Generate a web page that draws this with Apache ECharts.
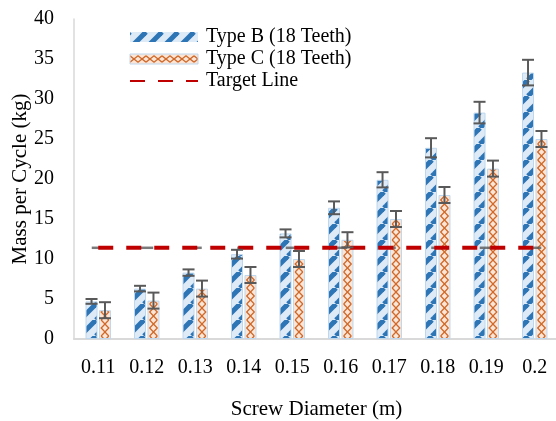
<!DOCTYPE html>
<html>
<head>
<meta charset="utf-8">
<script src="https://cdn.jsdelivr.net/npm/echarts@6/dist/echarts.min.js"></script>
<style>
html,body{margin:0;padding:0;background:#fff;}
#chart{width:556px;height:421px;}
</style>
</head>
<body>
<div id="chart"></div>
<script>
// ---- data ----
const categories = ['0.11','0.12','0.13','0.14','0.15','0.16','0.17','0.18','0.19','0.2'];
const typeB    = [4.7, 6.3, 8.3, 10.6, 13.2, 16.4, 19.9, 23.9, 28.3, 33.3];
const typeBErr = [0.3, 0.35, 0.4, 0.55, 0.5, 0.8, 0.95, 1.2, 1.35, 1.6];
const typeC    = [3.6, 4.8, 6.3, 8.0, 10.0, 12.4, 15.0, 18.0, 21.3, 25.0];
const typeCErr = [1.0, 1.0, 1.0, 1.0, 1.0, 0.95, 1.0, 1.0, 1.0, 1.0];
const target   = [11.4, 11.4, 11.4, 11.4, 11.4, 11.4, 11.4, 11.4, 11.4, 11.4];
const yTicks = {min: 0, max: 40, interval: 5};
const names = ['Type B (18 Teeth)', 'Type C (18 Teeth)', 'Target Line'];

// ---- layout / style ----
const FONT = '"Liberation Serif","Times New Roman",serif';
const gridLeft = 74, gridTop = 19, gridBottom = 82, gridWidth = 485;
const catW = gridWidth / categories.length;
const barW = 12, barGapPct = 12;
const off = (barW + barW * barGapPct / 100) / 2;

function stripePattern() {
  const s = 16, c = document.createElement('canvas');
  c.width = s; c.height = s;
  const g = c.getContext('2d');
  g.fillStyle = '#deebf7'; g.fillRect(0, 0, s, s);
  g.strokeStyle = '#2e75b6'; g.lineWidth = 5;
  for (let k = -1; k <= 1; k++) {
    g.beginPath(); g.moveTo(k * s, s); g.lineTo(k * s + s, 0); g.stroke();
  }
  return {image: c, repeat: 'repeat'};
}
function zigzagVertical() {
  const tw = Math.round(catW * 2), th = 16;
  const c = document.createElement('canvas');
  c.width = tw; c.height = th;
  const g = c.getContext('2d');
  g.fillStyle = '#fbe5d6'; g.fillRect(0, 0, tw, th);
  g.strokeStyle = '#d0692a'; g.lineWidth = 1.3;
  const first = (gridLeft + catW / 2 + off) % tw;
  const centers = [first, first + catW, first - tw, first + catW - tw, first + tw];
  const hw = 3.8;
  centers.forEach(cx => {
    g.beginPath(); g.moveTo(cx - hw, 0); g.lineTo(cx + hw, th / 2); g.lineTo(cx - hw, th); g.stroke();
    g.beginPath(); g.moveTo(cx + hw, 0); g.lineTo(cx - hw, th / 2); g.lineTo(cx + hw, th); g.stroke();
  });
  return {image: c, repeat: 'repeat'};
}
function zigzagHorizontal() {
  const tw = 16, th = 10;
  const c = document.createElement('canvas');
  c.width = tw; c.height = th;
  const g = c.getContext('2d');
  g.fillStyle = '#fbe5d6'; g.fillRect(0, 0, tw, th);
  g.strokeStyle = '#d0692a'; g.lineWidth = 1.3;
  const cy = 5, hh = 3.2;
  g.beginPath(); g.moveTo(0, cy - hh); g.lineTo(tw / 2, cy + hh); g.lineTo(tw, cy - hh); g.stroke();
  g.beginPath(); g.moveTo(0, cy + hh); g.lineTo(tw / 2, cy - hh); g.lineTo(tw, cy + hh); g.stroke();
  return {image: c, repeat: 'repeat'};
}

const patB = stripePattern();
const patC = zigzagVertical();
const patCLegend = zigzagHorizontal();

function errorRenderer(dx) {
  return function (params, api) {
    const i = api.value(0), v = api.value(1), e = api.value(2);
    const p1 = api.coord([i, v + e]);
    const p2 = api.coord([i, v - e]);
    const x = p1[0] + dx, hw = 6;
    const st = {stroke: '#595959', lineWidth: 2};
    return {
      type: 'group',
      children: [
        {type: 'line', shape: {x1: x, y1: p1[1], x2: x, y2: p2[1]}, style: st},
        {type: 'line', shape: {x1: x - hw, y1: p1[1], x2: x + hw, y2: p1[1]}, style: st},
        {type: 'line', shape: {x1: x - hw, y1: p2[1], x2: x + hw, y2: p2[1]}, style: st}
      ]
    };
  };
}

const chart = echarts.init(document.getElementById('chart'), null, {renderer: 'canvas'});
chart.setOption({
  animation: false,
  backgroundColor: '#ffffff',
  textStyle: {fontFamily: FONT},
  grid: {left: gridLeft, top: gridTop, bottom: gridBottom, width: gridWidth, containLabel: false, outerBoundsMode: 'none'},
  legend: {
    orient: 'vertical',
    left: 124, top: 21,
    itemWidth: 68, itemHeight: 10, itemGap: 0,
    textStyle: {fontFamily: FONT, fontSize: 20, color: '#000', lineHeight: 22, padding: [0, 0, 0, 3]},
    data: [
      {name: names[0], icon: 'rect', itemStyle: {color: patB, borderWidth: 0}},
      {name: names[1], icon: 'rect', itemStyle: {color: patCLegend, borderColor: '#bdd7ee', borderWidth: 1}},
      {name: names[2], itemStyle: {color: 'rgba(0,0,0,0)', borderColor: 'rgba(0,0,0,0)', borderWidth: 0}}
    ]
  },
  xAxis: {
    type: 'category',
    data: categories,
    axisLine: {lineStyle: {color: '#d9d9d9', width: 2}},
    axisTick: {show: false},
    axisLabel: {fontFamily: FONT, fontSize: 20, color: '#000', margin: 19},
    name: 'Screw Diameter (m)',
    nameLocation: 'middle',
    nameGap: 60,
    nameMoveOverlap: false,
    nameTextStyle: {fontFamily: FONT, fontSize: 21, color: '#000'}
  },
  yAxis: {
    type: 'value',
    min: yTicks.min, max: yTicks.max, interval: yTicks.interval,
    axisLine: {show: true, lineStyle: {color: '#d9d9d9', width: 1.5}},
    axisTick: {show: false},
    splitLine: {show: false},
    axisLabel: {fontFamily: FONT, fontSize: 20, color: '#000', margin: 20},
    name: 'Mass per Cycle (kg)',
    nameLocation: 'middle',
    nameGap: 43,
    nameMoveOverlap: false,
    nameTextStyle: {fontFamily: FONT, fontSize: 21, color: '#000'}
  },
  series: [
    {
      name: names[0], type: 'bar', data: typeB,
      barWidth: barW, barGap: barGapPct + '%',
      itemStyle: {color: patB, borderColor: '#bdd7ee', borderWidth: 1},
      z: 2
    },
    {
      name: names[1], type: 'bar', data: typeC,
      barWidth: barW, barGap: barGapPct + '%',
      itemStyle: {color: patC, borderColor: '#bdd7ee', borderWidth: 1},
      z: 2
    },
    {
      name: 'targetMarks', type: 'scatter', data: target,
      symbol: 'rect', symbolSize: [13, 2.5],
      itemStyle: {color: '#595959'},
      z: 3, silent: true
    },
    {
      name: names[2], type: 'line', data: target,
      symbol: 'none',
      lineStyle: {color: '#c00000', width: 4, type: [15, 13], cap: 'butt'},
      itemStyle: {color: '#c00000'},
      z: 4
    },
    {
      name: 'errB', type: 'custom', renderItem: errorRenderer(-off),
      data: categories.map((c, i) => [i, typeB[i], typeBErr[i]]),
      encode: {x: 0, y: 1}, z: 5, silent: true
    },
    {
      name: 'errC', type: 'custom', renderItem: errorRenderer(off),
      data: categories.map((c, i) => [i, typeC[i], typeCErr[i]]),
      encode: {x: 0, y: 1}, z: 5, silent: true
    }
  ]
});
</script>
</body>
</html>
